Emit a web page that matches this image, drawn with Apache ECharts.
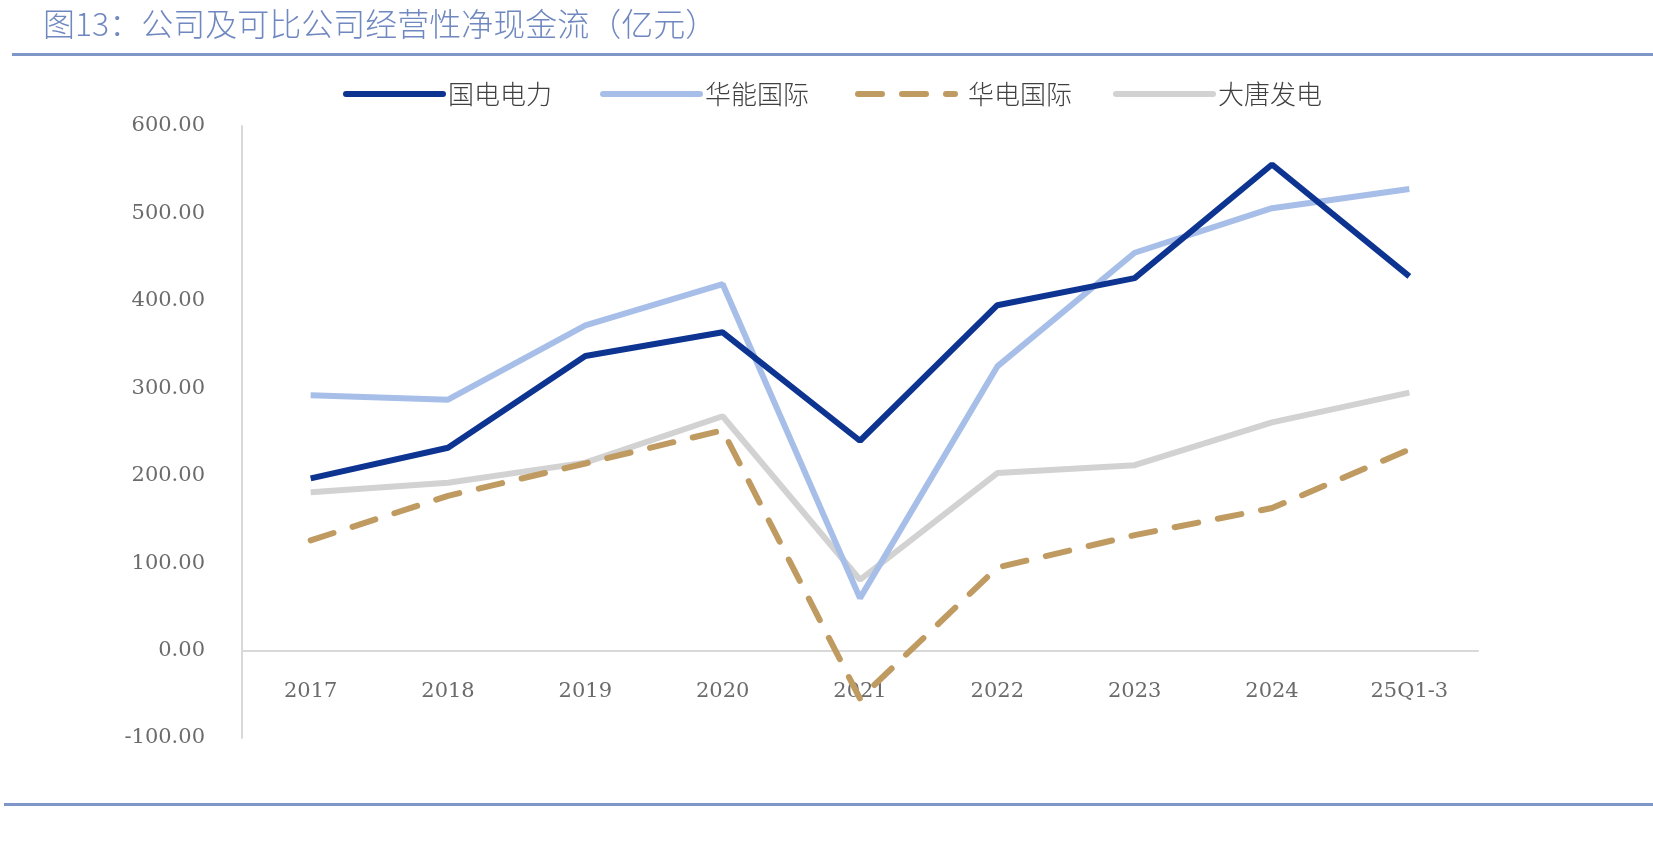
<!DOCTYPE html>
<html>
<head>
<meta charset="utf-8">
<script src="https://cdn.jsdelivr.net/npm/echarts@6/dist/echarts.min.js"></script>
<style>
html,body{margin:0;padding:0;background:#fff;}
#chart{width:1653px;height:855px;}
</style>
</head>
<body>
<div id="chart"></div>
<script>
const categories = ['2017','2018','2019','2020','2021','2022','2023','2024','25Q1-3'];
const gdpower = [197, 232, 337, 364, 240, 395, 426, 556, 428];
const huaneng = [292, 287, 372, 419, 60, 325, 455, 506, 528];
const huadian = [126, 177, 214, 252, -55, 95, 132, 163, 230];
const datang = [181, 192, 215, 268, 81, 203, 212, 261, 295];
const seriesNames = ['国电电力','华能国际','华电国际','大唐发电'];
const yTicks = [-100, 0, 100, 200, 300, 400, 500, 600];

const chart = echarts.init(document.getElementById('chart'));
const gridTop = 126, gridBottom = 117, H = 855;
const yMin = yTicks[0], yMax = yTicks[yTicks.length-1];
const plotH = H - gridTop - gridBottom;
const zeroOffset = -plotH * (0 - yMin) / (yMax - yMin);

const legendBase = {
  top: 81, padding: 0, itemWidth: 97, itemHeight: 16, itemGap: 0,
  lineStyle: {width: 6, cap: 'round'},
  itemStyle: {opacity: 0},
  textStyle: {fontFamily: 'Noto Sans CJK SC', fontSize: 26, color: '#404040', fontWeight: 300}
};
const option = {
  backgroundColor: '#fff',
  animation: false,
  title: {
    text: '图13：公司及可比公司经营性净现金流（亿元）',
    left: 38, top: 3,
    textStyle: {fontFamily: 'Noto Sans CJK SC', fontSize: 32, color: '#7088c0', fontWeight: 300}
  },
  graphic: [
    {type: 'rect', shape: {x: 12, y: 53, width: 1641, height: 3}, style: {fill: '#7f96c8'}},
    {type: 'rect', shape: {x: 4, y: 803, width: 1649, height: 3}, style: {fill: '#7f96c8'}}
  ],
  legend: [
    Object.assign({}, legendBase, {left: 343, data: [seriesNames[0]]}),
    Object.assign({}, legendBase, {left: 600, data: [seriesNames[1]]}),
    Object.assign({}, legendBase, {left: 855, data: [seriesNames[2]], textStyle: Object.assign({}, legendBase.textStyle, {padding: [0,0,0,8]})}),
    Object.assign({}, legendBase, {left: 1113, data: [seriesNames[3]]})
  ],
  grid: {left: 242, right: 175, top: gridTop, bottom: gridBottom},
  xAxis: {
    type: 'category',
    data: categories,
    boundaryGap: true,
    position: 'bottom',
    offset: zeroOffset,
    axisLine: {onZero: false, lineStyle: {color: '#d9d9d9', width: 2}},
    axisTick: {show: false},
    axisLabel: {margin: 30, fontFamily: 'DejaVu Serif', fontSize: 21, color: '#6b6b6b'},
    z: 1
  },
  yAxis: {
    type: 'value',
    min: yMin, max: yMax, interval: 100,
    axisLine: {show: true, lineStyle: {color: '#d9d9d9', width: 2}},
    axisTick: {show: false},
    splitLine: {show: false},
    axisLabel: {margin: 37, fontFamily: 'DejaVu Serif', fontSize: 21, color: '#6b6b6b',
      formatter: v => v.toFixed(2)}
  },
  series: [
    {name: seriesNames[0], type: 'line', data: gdpower, showSymbol: false, symbol: 'none', z: 5,
      lineStyle: {color: '#0e3491', width: 6}, itemStyle: {color: '#0e3491'}},
    {name: seriesNames[1], type: 'line', data: huaneng, showSymbol: false, symbol: 'none', z: 4,
      lineStyle: {color: '#a7bfe8', width: 6}, itemStyle: {color: '#a7bfe8'}},
    {name: seriesNames[2], type: 'line', data: huadian, showSymbol: false, symbol: 'none', z: 3,
      lineStyle: {color: '#bf9b62', width: 6, type: [24, 20], cap: 'round'}, itemStyle: {color: '#bf9b62'}},
    {name: seriesNames[3], type: 'line', data: datang, showSymbol: false, symbol: 'none', z: 2,
      lineStyle: {color: '#d2d2d2', width: 6}, itemStyle: {color: '#d2d2d2'}}
  ]
};
chart.setOption(option);
</script>
</body>
</html>
